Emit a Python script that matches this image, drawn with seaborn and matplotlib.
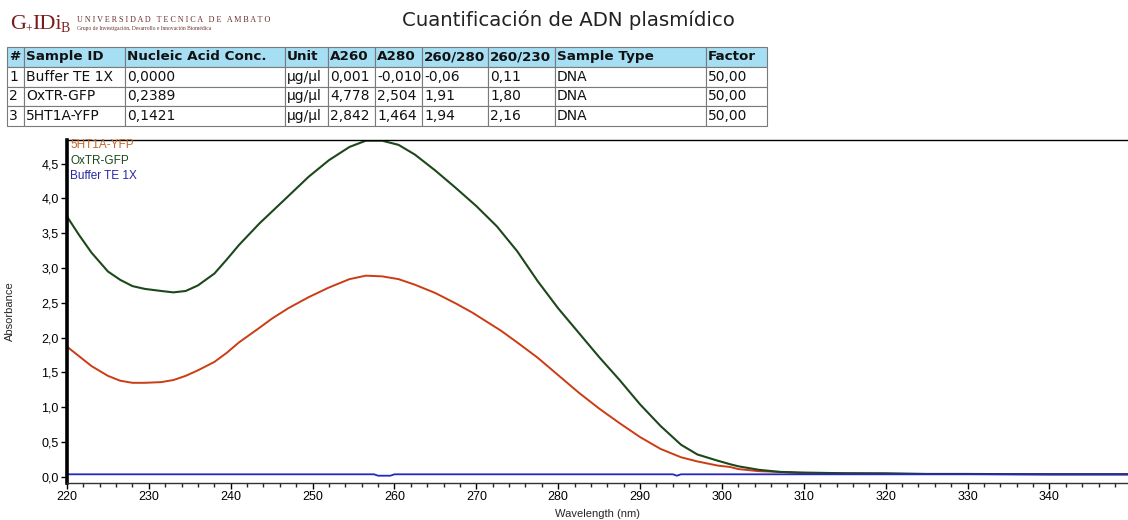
import numpy as np
import pandas as pd
import seaborn as sns
import matplotlib.pyplot as plt
from matplotlib.ticker import MultipleLocator, FuncFormatter

# spectra
oxtr_nm = [220, 221.5, 223, 225, 226.5, 228, 229.5, 231.5, 233, 234.5,
           236, 238, 239.5, 241, 243.5, 247, 249.5, 252, 254.5, 256.5,
           258.5, 260.5, 262.5, 265, 267.5, 270, 272.5, 275, 277.5, 280,
           282.5, 285, 287.5, 290, 292.5, 295, 297, 299.5, 301, 302,
           304.5, 307, 310, 315, 320, 325, 330, 340, 350]
oxtr_abs = [3.74, 3.47, 3.22, 2.95, 2.83, 2.74, 2.70, 2.67, 2.65, 2.67,
            2.75, 2.92, 3.12, 3.33, 3.64, 4.03, 4.31, 4.55, 4.74, 4.83,
            4.83, 4.77, 4.63, 4.40, 4.15, 3.89, 3.60, 3.24, 2.81, 2.42,
            2.07, 1.72, 1.39, 1.04, 0.73, 0.46, 0.32, 0.23, 0.18, 0.15,
            0.10, 0.07, 0.06, 0.05, 0.05, 0.04, 0.04, 0.035, 0.035]

ht1a_nm = [220, 221.5, 223, 225, 226.5, 228, 229.5, 231.5, 233, 234.5,
           236, 238, 239.5, 241, 243.5, 245, 247, 249.5, 252, 254.5,
           256.5, 258.5, 260.5, 262.5, 265, 267.5, 269.5, 273, 275, 277.5,
           280, 282.5, 285, 287.5, 290, 292.5, 295, 297, 299.5, 301,
           302, 304.5, 307, 310, 315, 320, 325, 330, 340, 350]
ht1a_abs = [1.87, 1.73, 1.59, 1.45, 1.38, 1.35, 1.35, 1.36, 1.39, 1.45,
            1.53, 1.65, 1.78, 1.93, 2.14, 2.27, 2.42, 2.58, 2.72, 2.84,
            2.89, 2.88, 2.84, 2.76, 2.64, 2.49, 2.36, 2.10, 1.93, 1.71,
            1.46, 1.21, 0.98, 0.77, 0.57, 0.40, 0.28, 0.22, 0.16, 0.14,
            0.11, 0.08, 0.07, 0.05, 0.05, 0.04, 0.04, 0.04, 0.035, 0.035]

buffer_nm = [220, 257.5, 258, 259.5, 260, 294, 294.5, 295, 350]
buffer_abs = [0.035, 0.035, 0.015, 0.015, 0.035, 0.035, 0.015, 0.035, 0.035]

# table
col_labels = ["#", "Sample ID", "Nucleic Acid Conc.", "Unit", "A260", "A280",
              "260/280", "260/230", "Sample Type", "Factor"]
row_num = ["1", "2", "3"]
sample_ids = ["Buffer TE 1X", "OxTR-GFP", "5HT1A-YFP"]
conc = ["0,0000", "0,2389", "0,1421"]
unit = ["µg/µl", "µg/µl", "µg/µl"]
a260 = ["0,001", "4,778", "2,842"]
a280 = ["-0,010", "2,504", "1,464"]
r260_280 = ["-0,06", "1,91", "1,94"]
r260_230 = ["0,11", "1,80", "2,16"]
sample_type = ["DNA", "DNA", "DNA"]
factor = ["50,00", "50,00", "50,00"]

sns.set_style("white")
plt.rcParams['font.family'] = ['DejaVu Sans']

W, H = 1128, 520
fig = plt.figure(figsize=(W / 100, H / 100), dpi=100)

# logo + title
red = "#7a1c1c"
fig.text(10 / W, 1 - 29 / H, "G", family="Liberation Serif", fontsize=16, color=red)
fig.text(25.5 / W, 1 - 33 / H, "+", family="Liberation Serif", fontsize=8.5, color=red)
fig.text(32 / W, 1 - 29 / H, "IDi", family="Liberation Serif", fontsize=16, color=red)
fig.text(61 / W, 1 - 32 / H, "B", family="Liberation Serif", fontsize=10, color=red)
fig.text(77 / W, 1 - 22 / H, "U N I V E R S I D A D   T E C N I C A   D E   A M B A T O",
         family="Liberation Serif", fontsize=5.9, color="#6a3030")
fig.text(77 / W, 1 - 30 / H, "Grupo de Investigación, Desarrollo e Innovación Biomédica",
         family="Liberation Serif", fontsize=4.0, color="#6a3030")
fig.text(568 / W, 1 - 20 / H, "Cuantificación de ADN plasmídico",
         fontsize=14.2, ha="center", va="center", color="#222222")

ax_t = fig.add_axes([7 / W, 1 - 126 / H, 760 / W, 79 / H])
ax_t.axis("off")
col_px = [17, 101, 160, 43, 47, 47, 66, 67, 151, 61]
rows = list(zip(row_num, sample_ids, conc, unit, a260, a280,
                r260_280, r260_230, sample_type, factor))
tbl = ax_t.table(cellText=rows, colLabels=col_labels,
                 colWidths=[c / sum(col_px) for c in col_px],
                 cellLoc="left", colLoc="left", bbox=[0, 0, 1, 1])
tbl.auto_set_font_size(False)
for (r, c), cell in tbl.get_celld().items():
    cell.set_edgecolor("#7a7a7a")
    cell.set_linewidth(0.8)
    cell.PAD = 2.0 / col_px[c]
    txt = cell.get_text()
    txt.set_color("#111111")
    if r == 0:
        cell.set_facecolor("#a6def3")
        txt.set_fontweight("bold")
        txt.set_fontsize(9.7)
    else:
        txt.set_fontsize(10.0)

# spectrum
ax = fig.add_axes([67 / W, 1 - 483 / H, 1061 / W, 343 / H])
sns.lineplot(x=ht1a_nm, y=ht1a_abs, ax=ax, color="#cc3c12", lw=1.4, legend=False)
sns.lineplot(x=oxtr_nm, y=oxtr_abs, ax=ax, color="#1c481c", lw=1.5, legend=False)
sns.lineplot(x=buffer_nm, y=buffer_abs, ax=ax, color="#2626c0", lw=1.3, legend=False)

ax.set_xlim(220, 349.6)
ax.set_ylim(-0.09, 4.84)
ax.xaxis.set_major_locator(MultipleLocator(10))
ax.xaxis.set_minor_locator(MultipleLocator(2))
ax.yaxis.set_major_locator(MultipleLocator(0.5))
ax.yaxis.set_major_formatter(FuncFormatter(lambda v, p: f"{v:.1f}".replace(".", ",")))
ax.tick_params(axis="both", which="major", direction="out", length=4, width=1,
               labelsize=9, colors="black", pad=2, bottom=True, left=True)
ax.tick_params(axis="x", which="minor", direction="out", length=3, width=1, bottom=True)
for lab in ax.get_xticklabels() + ax.get_yticklabels():
    lab.set_family("Liberation Sans")

ax.spines["left"].set_linewidth(2.6)
ax.spines["left"].set_color("black")
ax.spines["top"].set_linewidth(1)
ax.spines["top"].set_color("black")
ax.spines["bottom"].set_linewidth(1)
ax.spines["bottom"].set_color("#333333")
ax.spines["right"].set_visible(False)

ax.set_xlabel("Wavelength (nm)", family="Liberation Sans", fontsize=8)
ax.set_ylabel("Absorbance", family="Liberation Sans", fontsize=8)
ax.xaxis.set_label_coords(0.5, -0.076)
ax.yaxis.set_label_coords(-0.049, 0.5)

leg_names = ["5HT1A-YFP", "OxTR-GFP", "Buffer TE 1X"]
leg_colors = ["#c8642a", "#1c481c", "#2626a8"]
for i, (n, c) in enumerate(zip(leg_names, leg_colors)):
    ax.text(0.003, 0.984 - i * 0.045, n, transform=ax.transAxes, color=c,
            family="Liberation Sans", fontsize=8.5, va="center", ha="left")

fig.savefig("out.png", dpi=100)
